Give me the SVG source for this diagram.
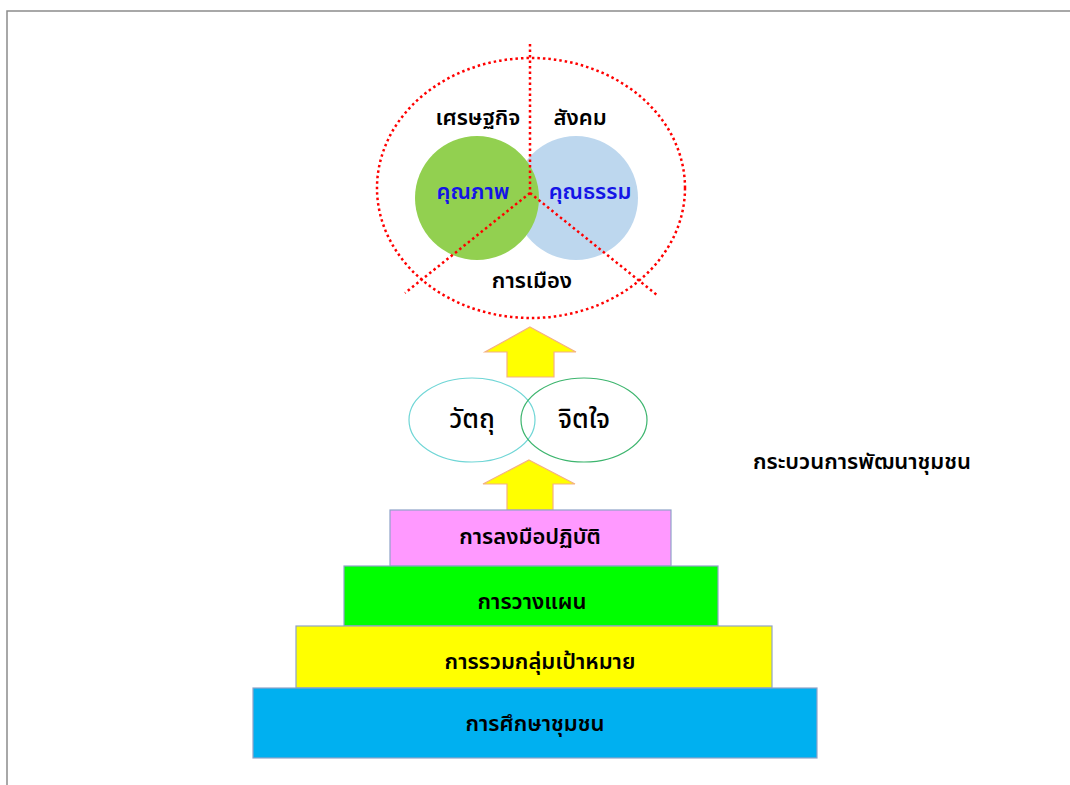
<svg xmlns="http://www.w3.org/2000/svg" width="1070" height="785" viewBox="0 0 1070 785">
<style>
text{font-family:"Noto Sans Thai","Noto Sans","DejaVu Sans",sans-serif;text-anchor:middle;dominant-baseline:central;fill:#000;font-size:22px;font-weight:600}
.blue{fill:#1414E6}
.big{font-size:26px;font-weight:500}
.dot{fill:none;stroke:#FF0000;stroke-width:2.5;stroke-dasharray:2.5 3}
.arrow{fill:#FFFF00;stroke:#F4B183;stroke-width:1.2}
.box{stroke:#8FA3C8;stroke-width:1.2}
</style>
<rect width="1070" height="785" fill="#fff"/>
<path d="M7,785 V11 H1070" fill="none" stroke="#8C8C8C" stroke-width="1.5"/>

<g id="circles">
  <circle cx="576" cy="198" r="62" fill="#BDD7EE"/>
  <circle cx="477" cy="198" r="62" fill="#92D050"/>
</g>

<g id="connectors">
  <ellipse class="dot" cx="531" cy="188" rx="154" ry="130"/>
  <path class="dot" d="M530,44 V193 M530,193 L405,293 M530,193 L657,295"/>
  <path class="arrow" d="M530,327 L576,352 L554,352 L554,377 L507,377 L507,352 L485,352 Z"/>
  <path class="arrow" d="M529,460 L575,484 L553,484 L553,510 L507,510 L507,484 L483,484 Z"/>
</g>

<g id="economy"><text x="478" y="118">เศรษฐกิจ</text></g>
<g id="society"><text x="580" y="118">สังคม</text></g>
<g id="quality"><text class="blue" x="473" y="192">คุณภาพ</text></g>
<g id="morality"><text class="blue" x="590" y="192">คุณธรรม</text></g>
<g id="politics"><text x="532" y="281">การเมือง</text></g>

<g id="material">
  <ellipse cx="472" cy="420" rx="63" ry="42" fill="none" stroke="#70D6D6" stroke-width="1.2"/>
  <text class="big" x="472" y="420">วัตถุ</text>
</g>
<g id="mind">
  <ellipse cx="584" cy="420" rx="63" ry="42" fill="none" stroke="#3DB56E" stroke-width="1.2"/>
  <text class="big" x="584" y="420">จิตใจ</text>
</g>

<g id="process-label"><text x="862" y="462">กระบวนการพัฒนาชุมชน</text></g>

<g id="practice">
  <rect class="box" x="390" y="510" width="281" height="56" fill="#FF99FF"/>
  <text x="530" y="537">การลงมือปฏิบัติ</text>
</g>
<g id="planning">
  <rect class="box" x="344" y="566" width="374" height="60" fill="#00FF00"/>
  <text x="532" y="602">การวางแผน</text>
</g>
<g id="grouping">
  <rect class="box" x="296" y="626" width="476" height="62" fill="#FFFF00"/>
  <text x="540" y="662">การรวมกลุ่มเป้าหมาย</text>
</g>
<g id="study">
  <rect class="box" x="253" y="688" width="564" height="70" fill="#00B0F0"/>
  <text x="535" y="724">การศึกษาชุมชน</text>
</g>
</svg>
